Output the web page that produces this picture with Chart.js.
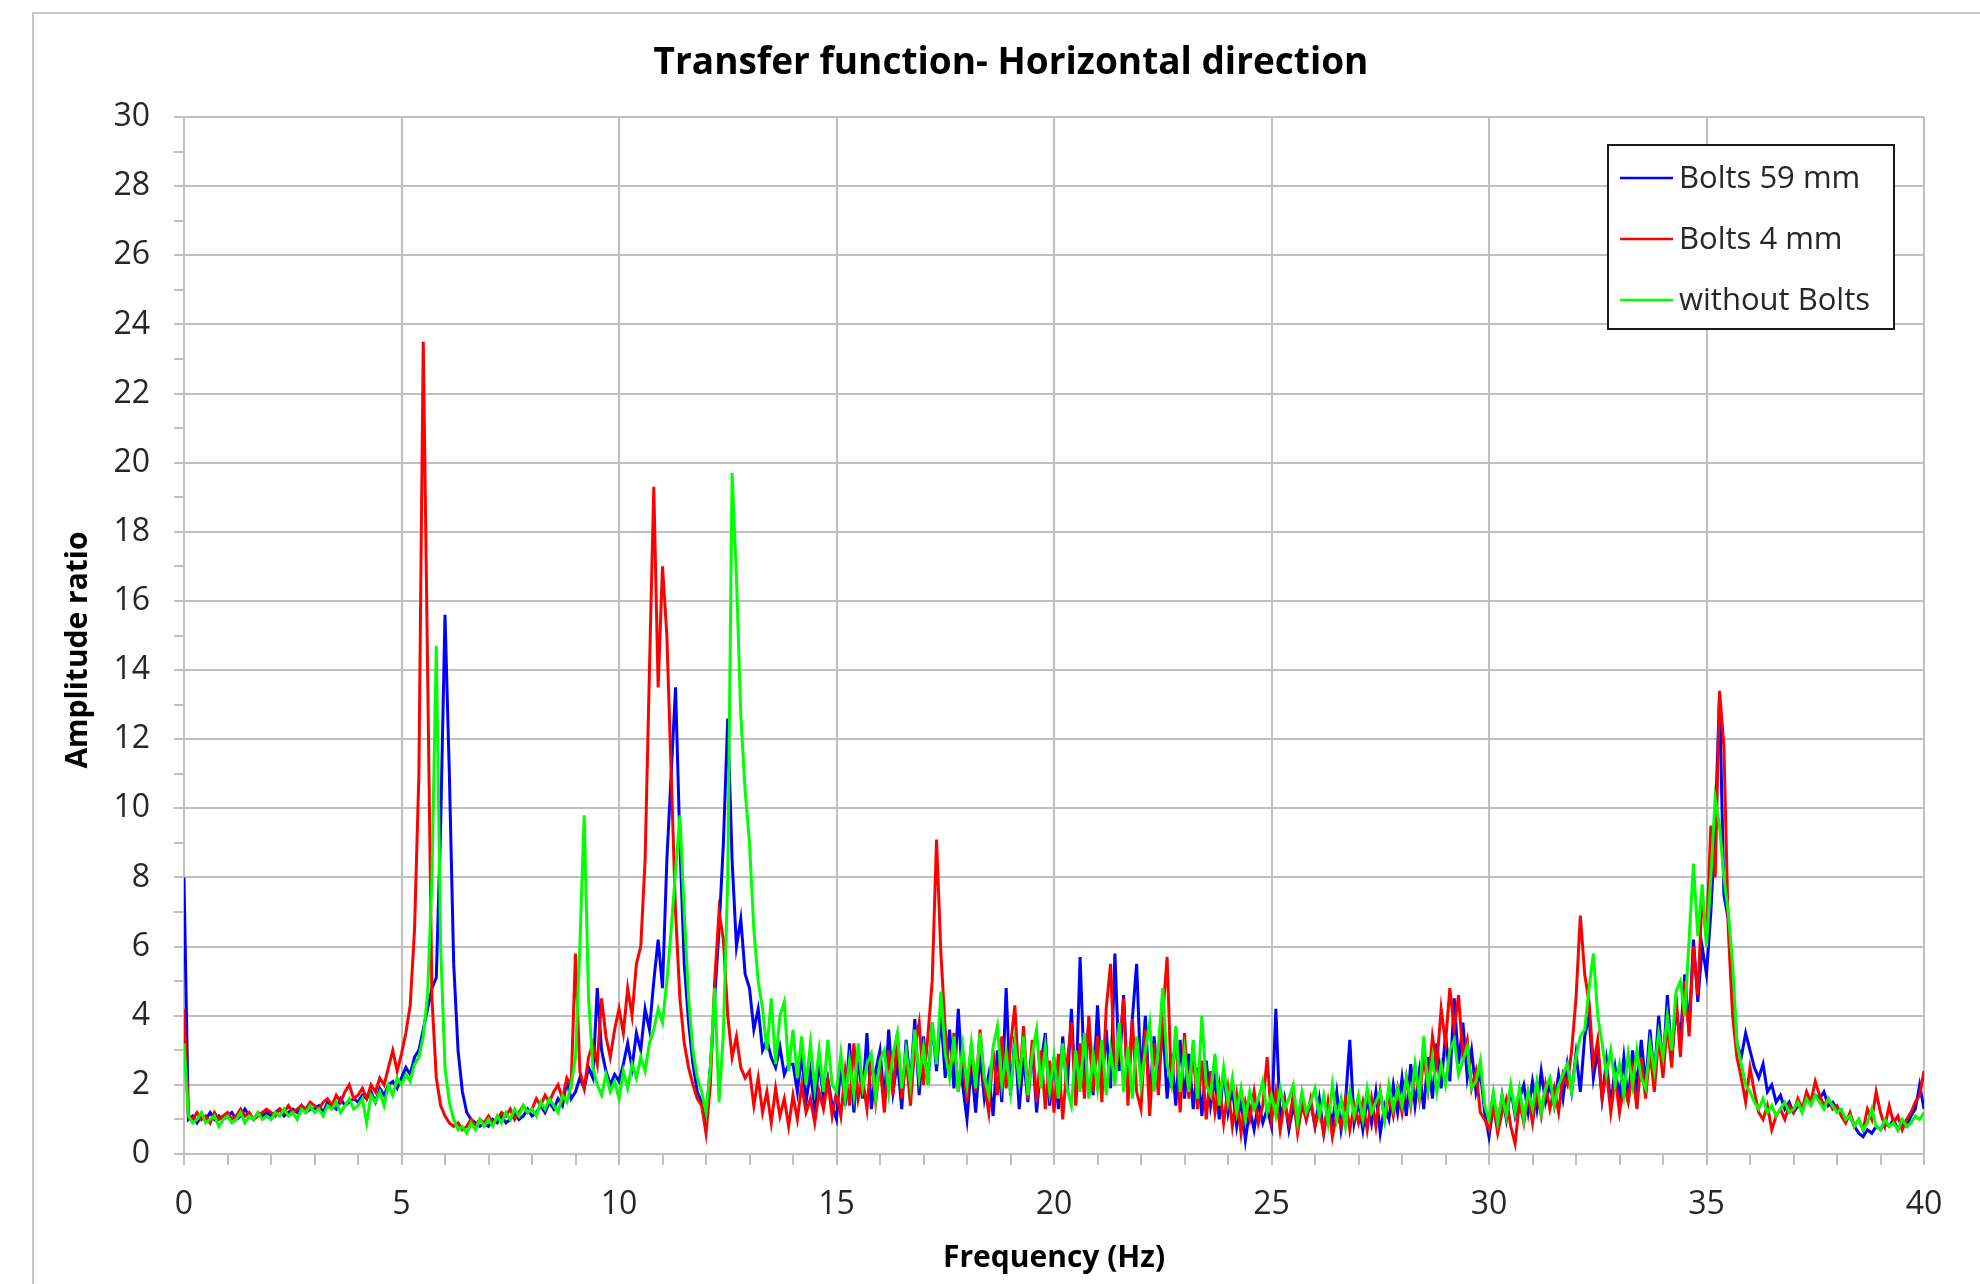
<!DOCTYPE html>
<html>
<head>
<meta charset="utf-8">
<title>Transfer function- Horizontal direction</title>
<script src="https://cdn.jsdelivr.net/npm/chart.js@4.4.1/dist/chart.umd.min.js"></script>
<style>
  html, body { margin: 0; padding: 0; background: #fff; }
  #wrap { position: relative; width: 1980px; height: 1284px; overflow: hidden; }
  #frame { position: absolute; left: 32px; top: 12px; width: 2000px; height: 1400px;
           border-top: 2px solid #c8c8c8; border-left: 2px solid #c8c8c8; }
  #myChart { position: absolute; left: 0; top: 0; }
</style>
</head>
<body>
<div id="wrap">
  <div id="frame"></div>
  <canvas id="myChart" width="1980" height="1284"></canvas>
</div>
<script>
// data: amplitude ratio, one value every 0.1 Hz from 0 to 40 Hz
const freqStep = 0.1;

const bolts59 = [
  8.0, 1.0, 1.1, 0.9, 1.1, 1.0, 1.2, 1.0, 1.1, 1.0,
  1.1, 1.2, 1.0, 1.1, 1.3, 1.1, 1.0, 1.2, 1.1, 1.2,
  1.1, 1.2, 1.3, 1.1, 1.2, 1.3, 1.2, 1.4, 1.2, 1.3,
  1.3, 1.4, 1.2, 1.5, 1.4, 1.3, 1.6, 1.4, 1.5, 1.6,
  1.5, 1.7, 1.6, 1.8, 1.5, 1.9, 1.7, 2.0, 2.1, 1.9,
  2.2, 2.5, 2.3, 2.8, 3.0, 3.6, 4.2, 4.8, 5.1, 9.5,
  15.6, 11.0, 5.5, 3.0, 1.8, 1.2, 1.0, 0.9, 0.8, 0.9,
  0.8, 1.0, 0.9, 1.1, 0.9, 1.0, 1.2, 1.0, 1.1, 1.3,
  1.1, 1.2, 1.4, 1.2, 1.5, 1.3, 1.6, 1.4, 2.1, 1.6,
  1.8, 2.2, 1.9, 2.5, 2.2, 4.8, 3.0, 2.4, 2.0, 2.3,
  2.1, 2.6, 3.2, 2.5, 3.5, 3.0, 4.2, 3.6, 5.0, 6.2,
  4.8, 8.5, 11.0, 13.5, 9.0, 5.5, 3.8, 2.6, 1.8, 1.5,
  1.0, 2.5, 4.5, 6.5, 9.0, 12.6, 8.5, 6.0, 6.8, 5.2,
  4.8, 3.6, 4.2, 3.0, 3.3, 2.8, 2.5, 3.1, 2.3, 2.6,
  2.6, 1.8, 2.9, 1.5, 2.4, 1.3, 2.7, 1.6, 2.2, 1.4,
  1.0, 2.6, 1.4, 3.2, 1.2, 2.8, 1.6, 3.5, 1.3, 2.4,
  3.0, 1.5, 3.6, 1.8, 2.7, 1.3, 3.3, 2.0, 3.9, 1.7,
  3.4, 2.0, 3.8, 2.4, 4.0, 2.2, 3.6, 1.9, 4.2, 2.0,
  1.0, 2.6, 1.2, 2.9, 1.6, 2.3, 1.1, 3.0, 1.5, 4.8,
  1.7, 3.4, 1.3, 2.8, 1.5, 3.1, 1.2, 2.6, 3.5, 1.4,
  2.8, 1.3, 3.4, 1.8, 4.2, 1.6, 5.7, 2.2, 3.8, 1.7,
  4.3, 2.0, 3.6, 1.9, 5.8, 2.4, 4.6, 1.8, 3.9, 5.5,
  2.1, 4.0, 1.5, 3.4, 2.0, 3.8, 1.6, 2.9, 1.4, 3.3,
  1.6, 2.9, 1.3, 2.5, 1.1, 2.7, 1.4, 2.2, 1.0, 2.4,
  1.2, 1.9, 0.8, 1.6, 0.4, 1.3, 0.7, 1.5, 0.9, 1.3,
  0.8, 4.2, 0.9, 1.6, 0.7, 1.4, 0.8, 1.7, 1.0, 1.5,
  0.8, 1.6, 0.6, 1.4, 0.9, 1.8, 0.7, 1.5, 3.3, 0.9,
  1.5, 0.7, 1.6, 0.9, 1.8, 0.6, 1.4, 1.0, 2.0, 1.2,
  2.2, 1.1, 2.6, 1.4, 2.4, 1.3, 2.8, 1.6, 3.2, 1.9,
  3.5, 2.1, 4.5, 2.6, 3.8, 2.2, 3.0, 1.8, 2.4, 1.2,
  0.5, 1.4, 0.8, 1.7, 1.0, 1.9, 1.1, 1.6, 2.0, 1.2,
  2.1, 1.3, 2.4, 1.5, 2.0, 1.4, 2.3, 1.6, 2.6, 1.8,
  2.9, 1.8, 3.4, 4.0, 2.2, 3.0, 1.6, 2.7, 1.4, 2.5,
  1.6, 2.8, 1.5, 3.0, 1.9, 3.3, 2.0, 3.6, 2.2, 4.0,
  2.5, 4.6, 2.8, 4.2, 3.3, 5.2, 3.6, 6.2, 4.4, 6.0,
  5.2, 7.0, 9.5, 13.3, 7.5, 6.8, 5.0, 3.2, 2.8, 3.5,
  3.0, 2.5, 2.2, 2.6, 1.8, 2.0, 1.5, 1.7, 1.3, 1.5,
  1.2, 1.4, 1.3, 1.6, 1.5, 1.7, 1.6, 1.8, 1.4, 1.5,
  1.3, 1.2, 1.0, 1.1, 0.8, 0.6, 0.5, 0.7, 0.6, 0.8,
  0.7, 0.9, 0.8, 1.0, 0.7, 0.9, 0.8, 1.1, 1.3, 2.0,
  1.3
];

const bolts4 = [
  4.2, 1.1, 1.0, 1.2, 1.0, 1.1, 0.9, 1.2, 1.0, 1.1,
  1.2, 1.0, 1.1, 1.3, 1.1, 1.2, 1.0, 1.1, 1.2, 1.3,
  1.2, 1.1, 1.3, 1.2, 1.4, 1.2, 1.3, 1.4, 1.3, 1.5,
  1.4, 1.3, 1.5, 1.6, 1.4, 1.7, 1.5, 1.8, 2.0, 1.6,
  1.7, 1.9, 1.6, 2.0, 1.8, 2.2, 2.0, 2.5, 3.0, 2.4,
  2.9, 3.5, 4.3, 6.5, 11.0, 23.5, 14.0, 4.5, 2.2, 1.4,
  1.1, 0.9, 0.8, 0.9, 0.7, 0.8, 1.0, 0.8, 1.0, 0.9,
  1.1, 0.9, 1.0, 1.2, 1.1, 1.3, 1.0, 1.2, 1.4, 1.2,
  1.3, 1.6, 1.4, 1.7, 1.5, 1.8, 2.0, 1.6, 2.2, 2.0,
  5.8, 2.4, 1.9, 2.8, 3.2, 2.6, 4.5, 3.4, 2.8, 3.6,
  4.2, 3.5, 4.8, 4.0, 5.5, 6.0, 8.5, 14.0, 19.3, 13.5,
  17.0, 15.0, 11.0, 7.0, 4.5, 3.2, 2.5, 2.0, 1.6, 1.4,
  0.6, 2.0, 5.0, 7.0, 6.2, 4.0, 2.8, 3.4, 2.5, 2.2,
  2.4, 1.4, 2.2, 1.2, 1.8, 0.9, 1.9, 1.1, 1.6, 0.8,
  1.7, 1.0, 2.0, 1.2, 1.6, 0.9, 1.8, 1.3, 2.1, 1.1,
  1.8, 1.1, 2.4, 1.4, 3.2, 1.6, 2.2, 1.3, 2.8, 1.5,
  2.6, 1.2, 3.0, 1.7, 3.5, 1.6, 2.8, 1.4, 3.1, 3.8,
  2.0, 3.4, 5.0, 9.1, 5.8, 3.6, 2.2, 3.5, 1.8, 3.0,
  1.5, 3.2, 1.8, 3.6, 2.0, 1.2, 3.0, 1.7, 3.4, 1.9,
  3.1, 4.3, 2.0, 3.7, 1.6, 3.3, 1.5, 3.0, 1.3, 2.7,
  1.2, 2.9, 1.0, 2.6, 3.8, 1.4, 3.2, 1.6, 4.0, 1.8,
  3.4, 1.5, 4.2, 5.5, 2.3, 3.0, 4.5, 1.4, 3.9, 1.8,
  1.3, 3.6, 1.1, 3.2, 1.7, 4.0, 5.7, 1.9, 3.5, 1.2,
  3.5, 1.6, 3.0, 1.3, 2.7, 1.0, 2.4, 1.2, 2.0, 0.9,
  1.9, 0.8, 1.7, 0.6, 1.5, 1.0, 1.8, 0.9, 1.4, 2.8,
  1.0, 1.8, 0.7, 1.5, 0.9, 1.7, 0.6, 1.4, 1.0, 1.6,
  0.8, 1.3, 0.6, 1.5, 0.5, 1.2, 0.8, 1.6, 0.7, 1.4,
  0.9, 1.5, 0.7, 1.6, 0.8, 1.8, 1.0, 1.7, 1.1, 1.9,
  1.2, 2.2, 1.4, 2.5, 1.6, 2.8, 1.9, 3.4, 2.6, 4.2,
  3.2, 4.8, 3.6, 4.6, 2.8, 3.3, 1.9, 2.4, 1.2, 1.0,
  0.7, 1.4, 0.6, 1.2, 1.6, 0.8, 0.3, 1.5, 0.9, 1.7,
  0.9, 1.8, 1.1, 2.0, 1.3, 1.9, 1.2, 2.3, 2.0, 3.0,
  4.5, 6.9, 5.2, 4.4, 2.6, 3.3, 1.6, 2.4, 1.2, 2.2,
  1.2, 2.0, 1.5, 2.4, 1.3, 2.8, 1.6, 3.0, 1.8, 3.4,
  2.2, 3.8, 2.5, 4.6, 2.8, 5.0, 3.4, 6.0, 4.6, 7.5,
  6.2, 9.5, 8.0, 13.4, 11.8, 6.5, 4.0, 2.8, 2.2, 1.5,
  2.5, 1.8, 1.2, 1.0, 1.4, 0.7, 1.1, 1.3, 1.0, 1.4,
  1.2, 1.6, 1.3, 1.8, 1.5, 2.1, 1.7, 1.4, 1.6, 1.3,
  1.4, 1.1, 0.9, 1.2, 0.8, 1.0, 0.7, 1.3, 1.0, 1.8,
  1.2, 0.8, 1.4, 0.9, 1.1, 0.7, 1.0, 1.2, 1.5, 1.7,
  2.4
];

const noBolts = [
  3.2, 1.1, 0.9, 1.0, 1.2, 0.9, 1.0, 1.1, 0.8, 1.0,
  1.1, 0.9, 1.0, 1.2, 0.9, 1.1, 1.0, 1.2, 1.0, 1.1,
  1.0, 1.2, 1.1, 1.3, 1.1, 1.2, 1.0, 1.3, 1.2, 1.4,
  1.2, 1.3, 1.1, 1.4, 1.3, 1.5, 1.2, 1.4, 1.6, 1.3,
  1.4, 1.6, 0.9, 1.7, 1.5, 1.8, 1.4, 2.0, 1.7, 2.2,
  2.0, 2.3, 2.1, 2.6, 2.8, 3.4, 4.6, 8.0, 14.7, 6.0,
  2.5, 1.5, 1.0, 0.7, 0.8, 0.6, 0.9, 0.7, 1.0, 0.8,
  1.0, 0.8, 1.1, 0.9, 1.2, 1.0, 1.3, 1.1, 1.4, 1.2,
  1.3, 1.1, 1.5, 1.3, 1.6, 1.4, 1.2, 1.7, 1.5, 2.0,
  2.8, 6.0, 9.8, 4.5, 2.5, 2.0, 1.7, 2.3, 1.8, 2.1,
  1.6, 2.4, 1.9, 2.6, 2.2, 2.8, 2.4, 3.2, 3.6, 4.2,
  3.8, 5.0, 6.5, 8.2, 9.8, 7.0, 4.5, 3.0, 2.2, 1.8,
  1.2, 2.5, 4.8, 1.5, 3.5, 8.0, 19.7, 16.7, 12.7, 10.5,
  9.0, 6.5, 5.0, 4.2, 3.0, 4.5, 2.6, 4.0, 4.4, 2.4,
  3.6, 2.2, 3.4, 2.0, 3.2, 1.9, 3.0, 1.8, 3.3, 2.0,
  1.8, 2.9, 1.6, 2.7, 1.7, 3.2, 1.9, 2.6, 2.9, 1.6,
  2.7, 3.0, 1.8, 2.9, 3.5, 1.9, 3.0, 2.0, 3.6, 2.2,
  3.1, 2.0, 3.8, 2.6, 4.7, 2.9, 2.2, 3.4, 1.8, 3.1,
  2.0, 3.2, 1.9, 3.5, 2.2, 1.7, 3.1, 3.7, 2.0, 2.9,
  1.8, 3.2, 2.1, 3.4, 1.7, 2.9, 3.6, 1.9, 3.1, 1.8,
  2.8, 1.6, 3.2, 1.9, 1.4, 3.0, 1.8, 3.5, 1.6, 2.9,
  1.9, 3.3, 1.7, 3.0, 2.0, 3.8, 1.8, 3.1, 1.6, 3.4,
  2.0, 3.0, 3.8, 1.8, 3.1, 4.8, 2.6, 2.0, 3.7, 1.8,
  3.0, 1.8, 3.3, 1.6, 4.0, 2.0, 1.7, 2.9, 1.4, 2.5,
  1.5, 2.2, 1.2, 1.9, 1.0, 1.8, 1.3, 1.6, 2.1, 1.2,
  1.7, 1.1, 1.9, 1.3, 1.6, 2.0, 0.9, 1.8, 1.2, 1.5,
  1.9, 1.1, 1.7, 0.9, 2.0, 1.0, 1.6, 0.8, 1.8, 1.1,
  1.7, 1.0, 1.9, 1.2, 1.5, 1.8, 1.0, 2.0, 1.3, 1.9,
  1.4, 2.2, 1.5, 2.6, 1.7, 3.4, 1.9, 2.8, 1.8, 2.6,
  2.0, 3.0, 3.3, 2.3, 2.7, 3.1, 1.9, 2.1, 2.7, 1.4,
  1.0, 1.8, 0.9, 1.7, 1.1, 2.0, 1.2, 1.9, 1.0, 1.8,
  1.3, 2.1, 1.2, 1.9, 2.2, 1.4, 2.0, 2.3, 2.6, 1.8,
  2.8, 3.4, 3.6, 4.8, 5.8, 4.0, 3.2, 2.3, 3.0, 2.0,
  2.6, 1.7, 2.9, 2.0, 3.0, 2.2, 1.9, 3.2, 2.4, 3.5,
  2.8, 4.0, 3.0, 4.7, 5.0, 4.0, 6.2, 8.4, 6.3, 7.8,
  6.0, 8.0, 10.3, 9.5, 8.0, 7.0, 5.5, 3.2, 2.6, 2.0,
  1.8, 1.5, 1.3, 1.6, 1.2, 1.4, 1.1, 1.3, 1.5, 1.2,
  1.3, 1.5, 1.2, 1.6, 1.4, 1.7, 1.5, 1.3, 1.6, 1.4,
  1.2, 1.3, 1.0, 1.1, 0.8, 1.0, 0.7, 0.9, 1.3, 0.8,
  0.7, 1.0, 0.8, 0.9, 0.7, 1.0, 0.8, 0.9, 1.1, 1.0,
  1.2
];

const seriesNames = ['Bolts 59 mm', 'Bolts 4 mm', 'without Bolts'];
const seriesColors = ['#0000ff', '#ff0000', '#00ff00'];
const xTickLabels = [0, 5, 10, 15, 20, 25, 30, 35, 40];
const yTickLabels = [0, 2, 4, 6, 8, 10, 12, 14, 16, 18, 20, 22, 24, 26, 28, 30];

const gridColor = '#c0c0c0';
const textColor = '#262626';
const fontFamily = '"Open Sans", "Liberation Sans", sans-serif';

function toPoints(values) {
  return values.map(function (v, i) {
    return { x: Math.round(i * freqStep * 10) / 10, y: v };
  });
}

// chart title and the y axis title, placed like in the original
const titlePlugin = {
  id: 'plotTitle',
  afterDraw: function (chart) {
    const ctx = chart.ctx;
    ctx.save();
    ctx.fillStyle = '#000';
    ctx.textAlign = 'center';
    ctx.textBaseline = 'middle';
    ctx.font = 'bold 37px ' + fontFamily;
    ctx.fillText('Transfer function- Horizontal direction', 1011, 63);
    ctx.translate(78, 650);
    ctx.rotate(-Math.PI / 2);
    ctx.font = 'bold 30px ' + fontFamily;
    ctx.fillText('Amplitude ratio', 0, 0);
    ctx.restore();
  }
};

// boxed legend inside the plot, top right
const boxLegend = {
  id: 'boxLegend',
  afterDraw: function (chart) {
    const ctx = chart.ctx;
    const left = 1608, top = 145, w = 286, h = 184;
    ctx.save();
    ctx.fillStyle = '#fff';
    ctx.fillRect(left, top, w, h);
    ctx.strokeStyle = '#1a1a1a';
    ctx.lineWidth = 2;
    ctx.strokeRect(left, top, w, h);
    ctx.font = '31px ' + fontFamily;
    ctx.textBaseline = 'middle';
    ctx.textAlign = 'left';
    chart.data.datasets.forEach(function (ds, i) {
      const y = top + 33 + i * 61;
      ctx.strokeStyle = ds.borderColor;
      ctx.lineWidth = 2.5;
      ctx.beginPath();
      ctx.moveTo(left + 12, y);
      ctx.lineTo(left + 65, y);
      ctx.stroke();
      ctx.fillStyle = textColor;
      ctx.fillText(ds.label, left + 71, y + 1);
    });
    ctx.restore();
  }
};

const ctx = document.getElementById('myChart').getContext('2d');
const myChart = new Chart(ctx, {
  type: 'line',
  data: {
    datasets: [
      { label: seriesNames[0], data: toPoints(bolts59), borderColor: seriesColors[0], order: 2 },
      { label: seriesNames[1], data: toPoints(bolts4), borderColor: seriesColors[1], order: 1 },
      { label: seriesNames[2], data: toPoints(noBolts), borderColor: seriesColors[2], order: 0 }
    ]
  },
  options: {
    responsive: false,
    animation: false,
    parsing: false,
    layout: { padding: { top: 117, right: 56, left: 0, bottom: 0 } },
    elements: {
      line: { borderWidth: 3, tension: 0 },
      point: { radius: 0 }
    },
    plugins: {
      legend: { display: false },
      title: { display: false },
      tooltip: { enabled: false }
    },
    scales: {
      x: {
        type: 'linear',
        min: 0,
        max: 40,
        afterFit: function (scale) { scale.height = 130; },
        ticks: {
          stepSize: 1,
          autoSkip: false,
          maxRotation: 0,
          padding: 21,
          color: textColor,
          font: { family: fontFamily, size: 32 },
          callback: function (v) { return xTickLabels.includes(v) ? String(v) : ''; }
        },
        grid: {
          color: function (c) { return c.tick && xTickLabels.includes(c.tick.value) ? gridColor : 'rgba(0,0,0,0)'; },
          lineWidth: 2,
          tickColor: gridColor,
          tickLength: 11
        },
        border: { color: gridColor, width: 2 },
        title: {
          display: true,
          text: 'Frequency (Hz)',
          color: '#000',
          font: { family: fontFamily, size: 30, weight: 'bold' },
          padding: { top: 0, bottom: 8 }
        }
      },
      y: {
        min: 0,
        max: 30,
        afterFit: function (scale) { scale.width = 184; },
        ticks: {
          stepSize: 1,
          autoSkip: false,
          padding: 24,
          color: textColor,
          font: { family: fontFamily, size: 32 },
          callback: function (v) { return yTickLabels.includes(v) ? String(v) : ''; }
        },
        grid: {
          color: function (c) { return c.tick && yTickLabels.includes(c.tick.value) ? gridColor : 'rgba(0,0,0,0)'; },
          lineWidth: 2,
          tickColor: gridColor,
          tickLength: 10
        },
        border: { color: gridColor, width: 2 }
      }
    }
  },
  plugins: [titlePlugin, boxLegend]
});
</script>
</body>
</html>
